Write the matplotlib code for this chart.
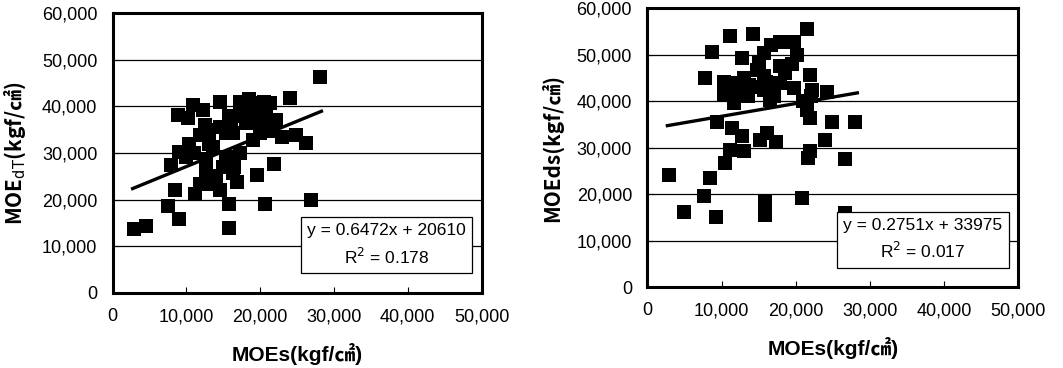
import numpy as np
import matplotlib
matplotlib.use("Agg")
import matplotlib.pyplot as plt
from matplotlib.ticker import FuncFormatter

plt.rcParams['font.family'] = ['Liberation Sans', 'Noto Sans CJK KR']

# MOEs vs MOEdT (left panel)
moes_dt = [2900, 4500, 28100, 26900, 26200, 24900, 24000, 21900, 20700, 19500,
           15700, 15800, 9000, 8400, 7500, 7900, 8800, 10900, 10200, 12200,
           14500, 9000, 10400, 11800, 11100, 11800, 12700, 13600, 14900, 16300,
           16900, 17200, 18100, 17200, 19000, 21300, 20800, 21700, 20000, 14500,
           15800, 19000, 13600, 12700, 16300, 18100, 15400, 10000, 14500, 15800,
           22200, 22900, 19900, 15400, 13100,
           17000, 19000, 21000, 16000, 13000, 11000, 14000, 16500, 18500, 20500,
           12500]
moedt = [13800, 14300, 46200, 20000, 32200, 33800, 41700, 27700, 19000, 25200,
         13900, 19100, 15800, 22000, 18600, 27400, 38100, 40300, 37400, 39200,
         41000, 30300, 32000, 33800, 21300, 23400, 25600, 23400, 27000, 25600,
         23800, 29900, 36300, 41000, 40600, 40600, 37800, 34600, 34200, 35600,
         37800, 32800, 31300, 28800, 34200, 38500, 29200, 29200, 22000, 28500,
         37100, 33500, 37100, 34200, 34900,
         38000, 39000, 36000, 36500, 32000, 30000, 25000, 27000, 41500, 41000,
         36000]

# MOEs vs MOEds (right panel)
moes_ds = [2900, 4900, 7600, 8500, 9200, 8700, 7800, 11200, 14300, 21500,
           19700, 17900, 20200, 15700, 12800, 10300, 10300, 11700, 13500, 15700,
           17900, 21900, 22200, 19700, 21500, 21900, 14800, 16500, 13700, 24200,
           24900, 28000, 24000, 26700, 26700, 20900, 15900, 15900, 9400, 11400,
           11200, 10500, 12800, 13000, 15200, 16100, 17300, 21900, 21700, 17900,
           15700, 16600, 11700,
           13000, 14500, 16000, 17000, 18500, 19500, 12000, 15000, 21000, 22000]
moeds = [24200, 16100, 19500, 23400, 15100, 50500, 44900, 54100, 54400, 55500,
         52800, 52600, 50000, 50300, 49200, 44200, 41400, 39600, 41000, 42400,
         43900, 45700, 42400, 42800, 38100, 36300, 46700, 40300, 43500, 41900,
         35600, 35600, 31700, 27500, 15900, 19100, 18400, 15600, 35600, 34200,
         29500, 26700, 32400, 29200, 31700, 33100, 31300, 29200, 27700, 47500,
         45300, 52000, 43900,
         45000, 43000, 44000, 41000, 46000, 48000, 42000, 48500, 40000, 41000]

fits = [(0.6472, 20610, "0.178"), (0.2751, 33975, "0.017")]
fit_x = [2700, 28300]
ylabels = ["MOE$_{\\mathrm{dT}}$(kgf/\u33a0)", "MOEds(kgf/\u33a0)"]
xlabel = "MOEs(kgf/\u33a0)"

fig = plt.figure(figsize=(10.63, 3.68), dpi=100)
ax1 = fig.add_axes([0.106, 0.204, 0.347, 0.761])
ax2 = fig.add_axes([0.609, 0.220, 0.349, 0.758])

fmt = FuncFormatter(lambda v, p: f"{int(v):,}")
panels = [(ax1, moes_dt, moedt), (ax2, moes_ds, moeds)]
for i, (ax, xs, ys) in enumerate(panels):
    ax.set_xlim(0, 50000)
    ax.set_ylim(0, 60000)
    ax.set_xticks(np.arange(0, 50001, 10000))
    ax.set_yticks(np.arange(0, 60001, 10000))
    ax.xaxis.set_major_formatter(fmt)
    ax.yaxis.set_major_formatter(fmt)
    ax.tick_params(direction='in', length=4, labelsize=13, pad=11)
    ax.grid(axis='y', color='black', lw=0.9, zorder=0)
    ax.set_axisbelow(True)
    for s in ax.spines.values():
        s.set_linewidth(2.2)
    ax.scatter(xs, ys, marker='s', s=110, color='black', zorder=3, lw=0)
    slope, icpt, r2 = fits[i]
    fx = np.array(fit_x)
    ax.plot(fx, slope * fx + icpt, color='black', lw=2.4, zorder=4)
    ax.text(0.743, 0.17, f"y = {slope}x + {icpt}\nR$^2$ = {r2}",
            transform=ax.transAxes, ha='center', va='center', fontsize=12.5,
            linespacing=1.5, zorder=6,
            bbox=dict(boxstyle='square,pad=0.35', fc='white', ec='black', lw=0.9))
    ax.set_xlabel(xlabel, fontsize=15, fontweight='bold', labelpad=13)
    ax.set_ylabel(ylabels[i], fontsize=15, fontweight='bold', labelpad=10,
                  family='Noto Sans CJK KR')

fig.savefig("out.png", dpi=100)
